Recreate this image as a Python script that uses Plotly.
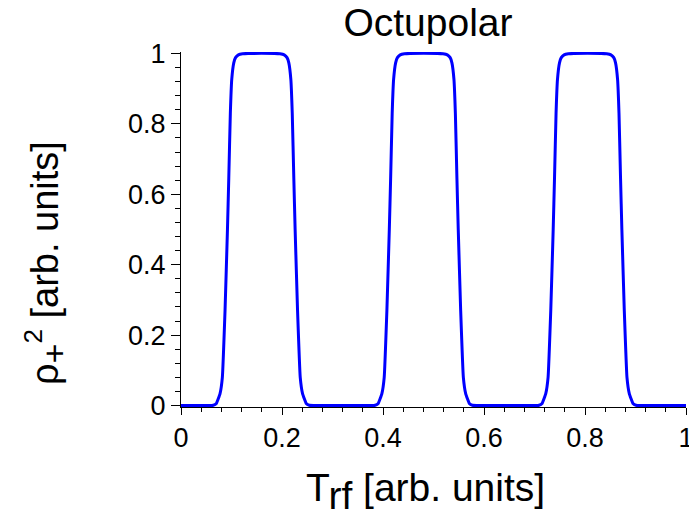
import plotly.graph_objects as go

# Trace (x = T_rf, y = rho_+^2)
t_rf = [
    0.0, 0.040, 0.056,
    0.064, 0.070, 0.0773, 0.0819, 0.0872, 0.092, 0.0946, 0.0977, 0.1005, 0.1045, 0.108, 0.1136, 0.122, 0.133,
    0.185, 0.196, 0.2044, 0.210, 0.2135, 0.2175, 0.2203, 0.2234, 0.226, 0.2308, 0.2361, 0.2407, 0.248, 0.254,
    0.262, 0.320, 0.377,
    0.3845, 0.3905, 0.3978, 0.4024, 0.4077, 0.4125, 0.4151, 0.4182, 0.4210, 0.4250, 0.4285, 0.4341, 0.4425, 0.4535,
    0.508, 0.519, 0.5274, 0.533, 0.5365, 0.5405, 0.5433, 0.5464, 0.549, 0.5538, 0.5591, 0.5637, 0.571, 0.577,
    0.585, 0.643, 0.701,
    0.709, 0.715, 0.7223, 0.7269, 0.7322, 0.737, 0.7396, 0.7427, 0.7455, 0.7495, 0.753, 0.7586, 0.767, 0.778,
    0.832, 0.843, 0.8514, 0.857, 0.8605, 0.8645, 0.8673, 0.8704, 0.873, 0.8778, 0.8831, 0.8877, 0.895, 0.901,
    0.909, 0.950, 1.0,
]
rho2 = [
    0.0, 0.0, 0.0,
    0.001, 0.006, 0.034, 0.08, 0.27, 0.50, 0.645, 0.83, 0.926, 0.973, 0.988, 0.996, 0.999, 1.0,
    1.0, 0.999, 0.996, 0.988, 0.973, 0.926, 0.83, 0.645, 0.50, 0.27, 0.08, 0.034, 0.006, 0.001,
    0.0, 0.0, 0.0,
    0.001, 0.006, 0.034, 0.08, 0.27, 0.50, 0.645, 0.83, 0.926, 0.973, 0.988, 0.996, 0.999, 1.0,
    1.0, 0.999, 0.996, 0.988, 0.973, 0.926, 0.83, 0.645, 0.50, 0.27, 0.08, 0.034, 0.006, 0.001,
    0.0, 0.0, 0.0,
    0.001, 0.006, 0.034, 0.08, 0.27, 0.50, 0.645, 0.83, 0.926, 0.973, 0.988, 0.996, 0.999, 1.0,
    1.0, 0.999, 0.996, 0.988, 0.973, 0.926, 0.83, 0.645, 0.50, 0.27, 0.08, 0.034, 0.006, 0.001,
    0.0, 0.0, 0.0,
]

x_ticks = [0, 0.2, 0.4, 0.6, 0.8, 1]
x_tick_labels = ["0", "0.2", "0.4", "0.6", "0.8", "1"]
y_ticks = [0, 0.2, 0.4, 0.6, 0.8, 1]
y_tick_labels = ["0", "0.2", "0.4", "0.6", "0.8", "1"]

title_text = "Octupolar"
x_title = "T<sub><span style='font-size:39px'>rf</span></sub> [arb. units]"
y_title = ("ρ<sub><span style='font-size:34px'>+</span></sub>"
           "<sup><span style='font-size:26px'>2</span></sup> [arb. units]")

FONT = "Liberation Sans, Arial, Helvetica, sans-serif"

fig = go.Figure()
fig.add_trace(go.Scatter(
    x=t_rf, y=rho2, mode="lines",
    line=dict(color="#0000ff", width=3, shape="spline", smoothing=0.3),
    showlegend=False,
))

axis_common = dict(
    showgrid=False, zeroline=False, showline=True, linecolor="black", linewidth=1,
    ticks="outside", tickwidth=1, tickcolor="black",
    tickfont=dict(family=FONT, size=27, color="black"),
    mirror=False, automargin=False, ticklabeloverflow="allow",
)
minor_x = dict(ticks="outside", ticklen=4, tickwidth=1, tickcolor="black", dtick=0.04)
minor_y = dict(ticks="outside", ticklen=5, tickwidth=1, tickcolor="black", dtick=0.04)

fig.update_layout(
    width=689, height=517,
    margin=dict(l=181, r=3, t=52, b=110, autoexpand=False),
    paper_bgcolor="white", plot_bgcolor="white",
    title=dict(text=title_text, x=428 / 689, xref="container", xanchor="center",
               y=1 - 22 / 517, yref="container", yanchor="middle", automargin=False,
               font=dict(family=FONT, size=39, color="black")),
    xaxis=dict(range=[0, 1], tickvals=x_ticks, ticktext=x_tick_labels, ticklen=7,
               minor=minor_x, **axis_common),
    yaxis=dict(range=[-0.004, 1.004], tickvals=y_ticks, ticktext=y_tick_labels, ticklen=9,
               minor=minor_y, **axis_common),
    annotations=[
        dict(text=x_title, xref="paper", yref="paper",
             x=(425 - 181) / 505, y=(407 - 492) / 355, xanchor="center", yanchor="middle",
             showarrow=False, font=dict(family=FONT, size=39, color="black")),
        dict(text=y_title, xref="paper", yref="paper", textangle=-90,
             x=(45 - 181) / 505, y=(407 - 387) / 355, xanchor="center", yanchor="bottom",
             showarrow=False, font=dict(family=FONT, size=38, color="black")),
    ],
)

fig.write_html(
    "out.html",
    config={"displayModeBar": False},
    post_script="document.body.style.margin='0';document.body.style.overflow='hidden';",
)
